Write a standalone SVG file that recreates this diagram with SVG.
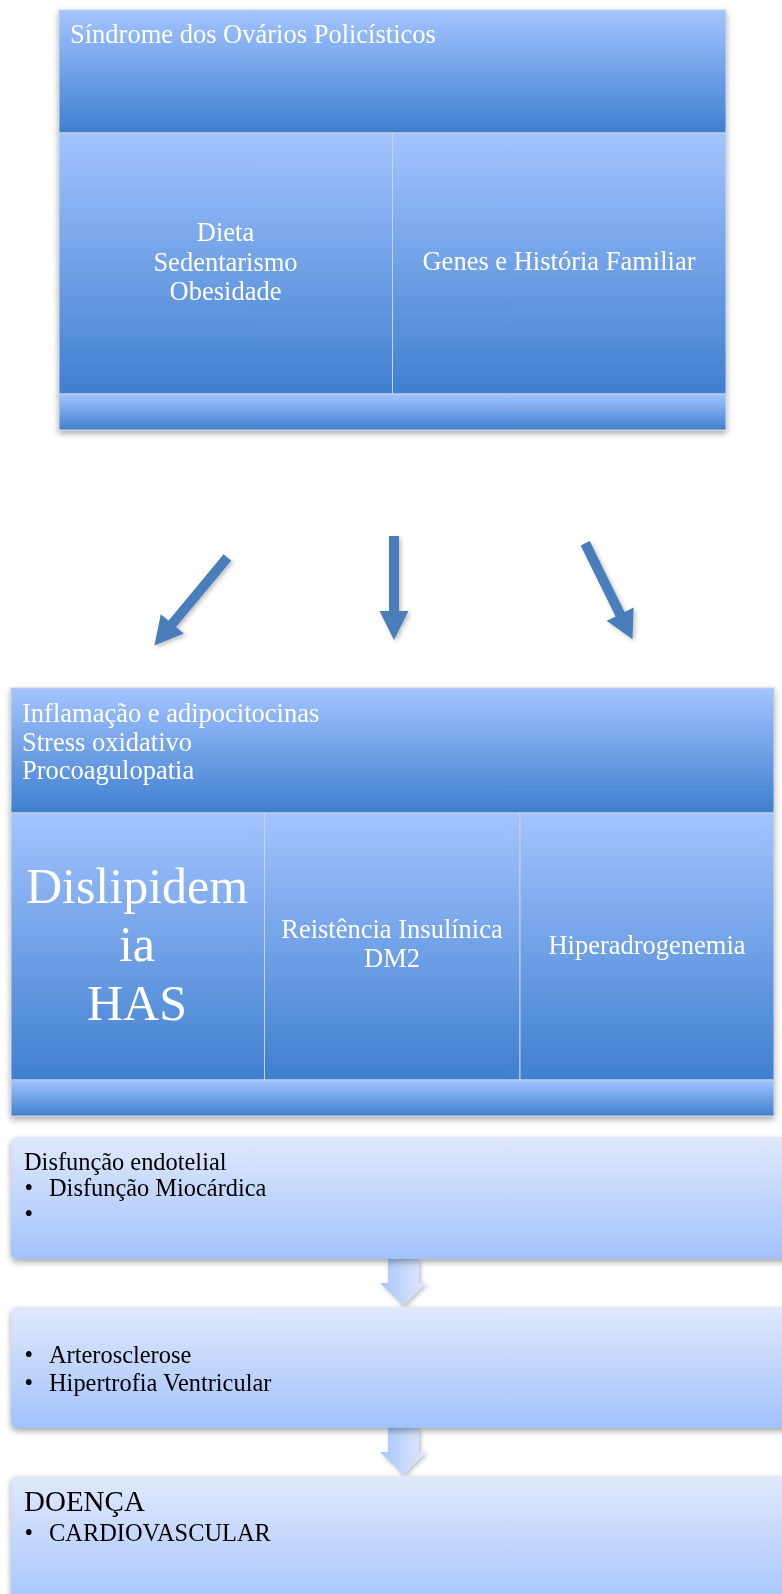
<svg xmlns="http://www.w3.org/2000/svg" width="782" height="1594" viewBox="0 0 782 1594">
<defs>
  <linearGradient id="gBlue" x1="0" y1="0" x2="0" y2="1">
    <stop offset="0" stop-color="#a3c4ff"/>
    <stop offset="1" stop-color="#3f7fcf"/>
  </linearGradient>
  <linearGradient id="gLight" x1="0" y1="0" x2="0" y2="1">
    <stop offset="0" stop-color="#e0e9fb"/>
    <stop offset="1" stop-color="#a2c2fc"/>
  </linearGradient>
  <linearGradient id="gArrowL" x1="0" y1="0" x2="1" y2="0">
    <stop offset="0" stop-color="#a8c5fb"/>
    <stop offset="1" stop-color="#dfe9fc"/>
  </linearGradient>
  <filter id="shadow" x="-5%" y="-5%" width="110%" height="115%">
    <feDropShadow dx="0" dy="3" stdDeviation="3" flood-color="#000" flood-opacity="0.35"/>
  </filter>
  <filter id="ashadow" x="-20%" y="-20%" width="140%" height="140%">
    <feDropShadow dx="2" dy="2" stdDeviation="2" flood-color="#000" flood-opacity="0.25"/>
  </filter>
</defs>
<style>
  .cell { fill: url(#gBlue); stroke: #c9d2de; stroke-width: 1; }
  .lbox { fill: url(#gLight); }
  .wt { fill: #ffffff; font-family: "Liberation Serif", "Times New Roman", serif; font-size: 26.5px; }
  .bt { fill: #000000; font-family: "Liberation Serif", "Times New Roman", serif; font-size: 24.4px; }
  .mid { text-anchor: middle; }
  .arrowB { fill: #4a7ebb; }
  .arrowL { fill: url(#gArrowL); }
</style>

<g id="node-sop" filter="url(#shadow)">
  <rect class="cell" x="59" y="10" width="667" height="123"/>
  <rect class="cell" x="59" y="133" width="333.5" height="261"/>
  <rect class="cell" x="392.5" y="133" width="333.5" height="261"/>
  <rect class="cell" x="59" y="394" width="667" height="36"/>
  <text class="wt" x="70" y="43">Síndrome dos Ovários Policísticos</text>
  <text class="wt mid" x="225.5" y="240.7">Dieta</text>
  <text class="wt mid" x="225.5" y="270.5">Sedentarismo</text>
  <text class="wt mid" x="225.5" y="300">Obesidade</text>
  <text class="wt mid" x="559" y="270">Genes e História Familiar</text>
</g>

<g id="connectors">
  <polygon class="arrowB" filter="url(#ashadow)" points="223.6,554.3 231.2,560.7 176.1,627.1 183.8,633.5 154.4,645.4 160.8,614.3 168.5,620.7"/>
  <polygon class="arrowB" filter="url(#ashadow)" points="389,536 399,536 399,611 408.5,611 394,640 379.5,611 389,611"/>
  <polygon class="arrowB" filter="url(#ashadow)" points="580.7,545.5 589.7,541.1 624.6,612.0 633.6,607.6 632.5,639.3 606.6,620.8 615.6,616.4"/>
  <polygon class="arrowL" filter="url(#ashadow)" points="388,1259 419,1259 419,1283 426,1283 403,1306 380,1283 388,1283"/>
  <polygon class="arrowL" filter="url(#ashadow)" points="388,1428 419,1428 419,1452 426,1452 403,1475 380,1452 388,1452"/>
</g>

<g id="node-mecanismos" filter="url(#shadow)">
  <rect class="cell" x="11" y="688" width="763" height="125"/>
  <rect class="cell" x="11" y="813" width="253.5" height="267"/>
  <rect class="cell" x="264.5" y="813" width="255.5" height="267"/>
  <rect class="cell" x="520" y="813" width="254" height="267"/>
  <rect class="cell" x="11" y="1080" width="763" height="36"/>
  <text class="wt" x="22" y="722">Inflamação e adipocitocinas</text>
  <text class="wt" x="22" y="750.5">Stress oxidativo</text>
  <text class="wt" x="22" y="779">Procoagulopatia</text>
  <text class="wt mid" x="137" y="903" style="font-size:50px">Dislipidem</text>
  <text class="wt mid" x="137" y="961" style="font-size:50px">ia</text>
  <text class="wt mid" x="137" y="1020" style="font-size:50px">HAS</text>
  <text class="wt mid" x="392" y="938">Reistência Insulínica</text>
  <text class="wt mid" x="392" y="967">DM2</text>
  <text class="wt mid" x="647" y="954">Hiperadrogenemia</text>
</g>

<g id="node-disfuncao" filter="url(#shadow)">
  <rect class="lbox" x="11" y="1137" width="790" height="122" rx="6"/>
  <text class="bt" x="24" y="1170">Disfunção endotelial</text>
  <text class="bt" x="24.5" y="1196">•</text>
  <text class="bt" x="49" y="1196">Disfunção Miocárdica</text>
  <text class="bt" x="24.5" y="1222">•</text>
</g>

<g id="node-arterosclerose" filter="url(#shadow)">
  <rect class="lbox" x="11" y="1307" width="790" height="121" rx="6"/>
  <text class="bt" x="24.5" y="1363">•</text>
  <text class="bt" x="49" y="1363">Arterosclerose</text>
  <text class="bt" x="24.5" y="1391">•</text>
  <text class="bt" x="49" y="1391">Hipertrofia Ventricular</text>
</g>

<g id="node-doenca" filter="url(#shadow)">
  <rect class="lbox" x="11" y="1476" width="790" height="140" rx="6"/>
  <text class="bt" x="24" y="1511" style="font-size:29px">DOENÇA</text>
  <text class="bt" x="24.5" y="1541">•</text>
  <text class="bt" x="49" y="1541">CARDIOVASCULAR</text>
</g>
</svg>
